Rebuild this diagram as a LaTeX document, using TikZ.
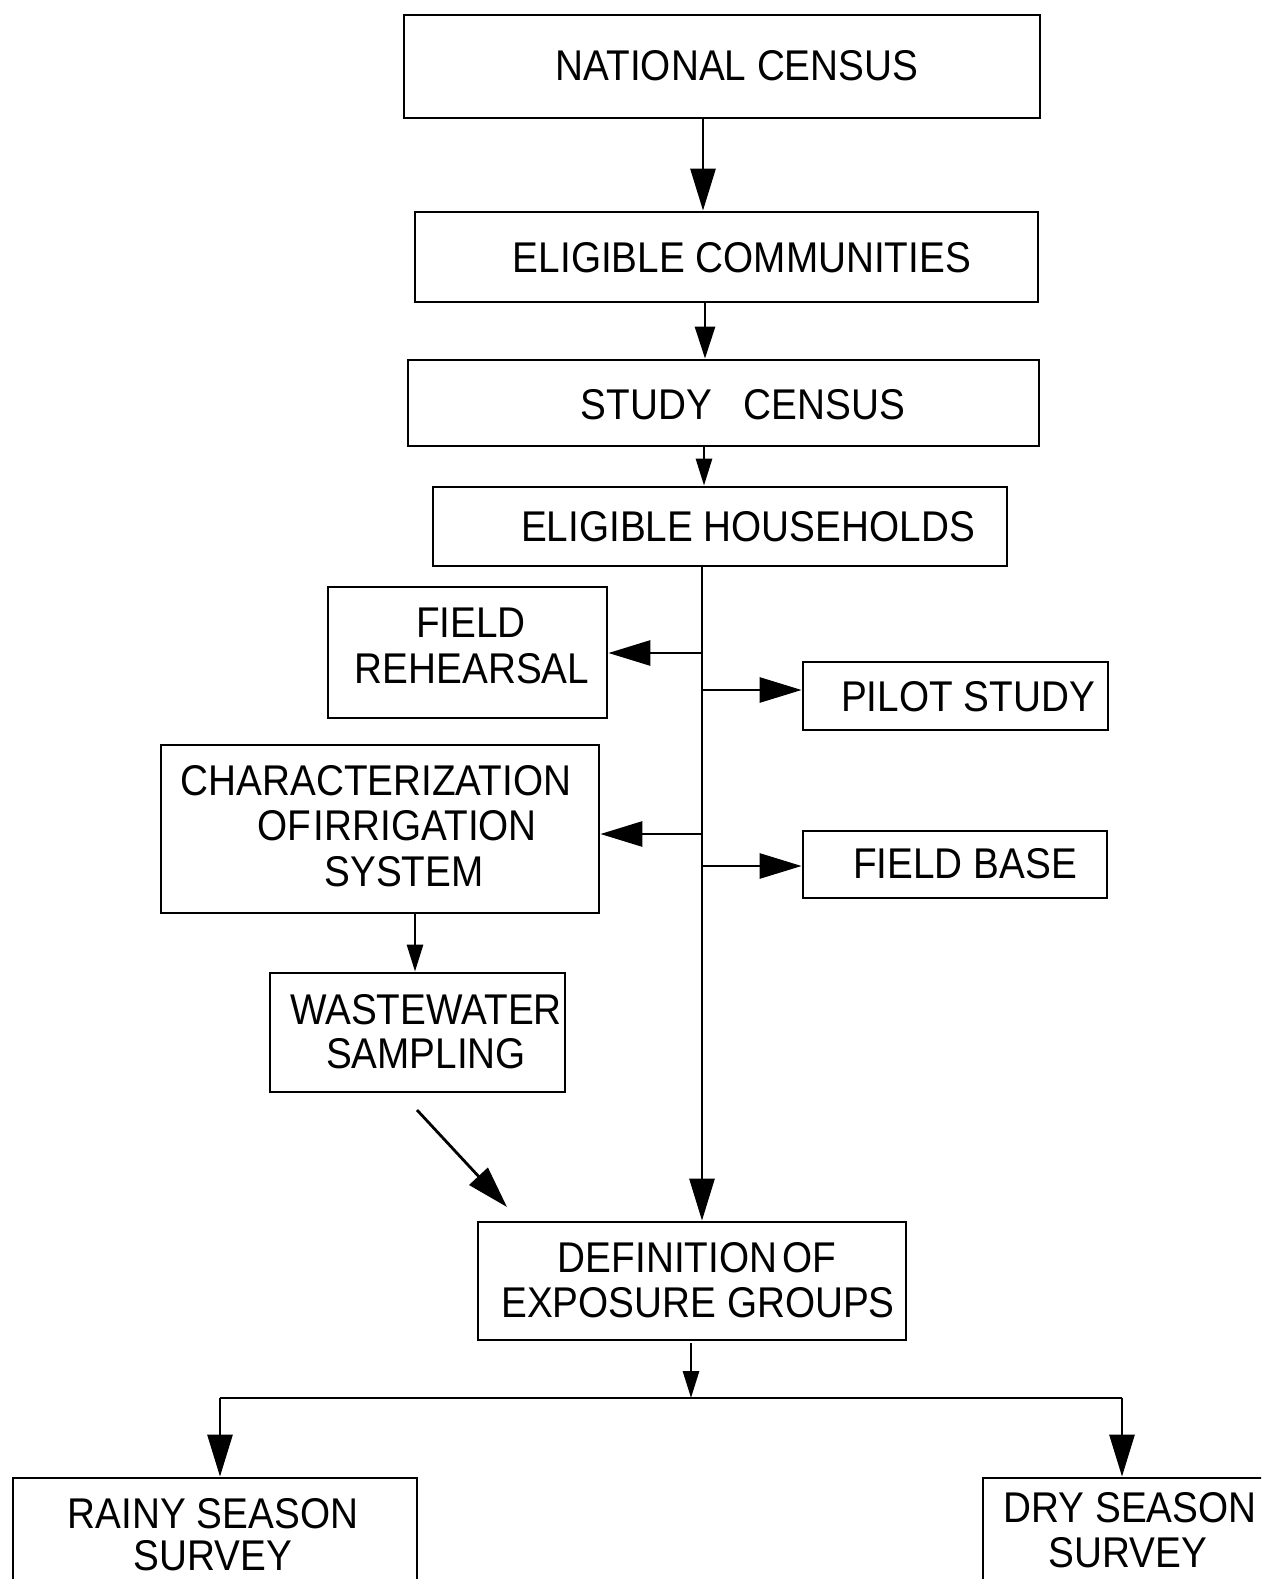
\documentclass[tikz,border=0pt]{standalone}
\usepackage{fontspec}
\setmainfont{Liberation Sans}[FakeStretch=0.9]
\usetikzlibrary{arrows.meta}
\begin{document}
\begin{tikzpicture}[x=1pt,y=-1pt,
  box/.style={draw,line width=2.8pt,inner sep=0pt,rectangle},
  lbl/.style={inner sep=0pt,font=\fontsize{43}{46}\selectfont},
  ln/.style={line width=2.8pt},
  bigarr/.style={ln,-{Triangle[length=42pt,width=25pt]}},
  midarr/.style={ln,-{Triangle[length=32pt,width=20pt]}},
  smallarr/.style={ln,-{Triangle[length=27pt,width=16pt]}}]
\useasboundingbox (0,0) rectangle (1261,1579);
\clip (0,0) rectangle (1261,1579);
% boxes
\node[box,minimum width=636pt,minimum height=103pt] (nc) at (722,66.5) {};
\node[box,minimum width=623pt,minimum height=90pt] (ec) at (726.5,257) {};
\node[box,minimum width=631pt,minimum height=86pt] (sc) at (723.5,403) {};
\node[box,minimum width=574pt,minimum height=79pt] (eh) at (720,526.5) {};
\node[box,minimum width=279pt,minimum height=131pt] (fr) at (467.5,652.5) {};
\node[box,minimum width=305pt,minimum height=68pt] (ps) at (955.5,696) {};
\node[box,minimum width=438pt,minimum height=168pt] (ch) at (380,829) {};
\node[box,minimum width=304pt,minimum height=67pt] (fb) at (955,864.5) {};
\node[box,minimum width=295pt,minimum height=119pt] (ww) at (417.5,1032.5) {};
\node[box,minimum width=428pt,minimum height=118pt] (df) at (692,1281) {};
\node[box,minimum width=404pt,minimum height=162pt] (rs) at (215,1559) {};
\node[box,minimum width=317pt,minimum height=162pt] (ds) at (1141.5,1559) {};
% texts
\node[lbl] (nc-t) at (737,66) {NATIONAL CENSUS};
\node[lbl] (ec-t) at (742,258) {ELIGIBLE COMMUNITIES};
\node[lbl] (sc-t) at (743,405) {STUDY\hspace{32pt}CENSUS};
\node[lbl] (eh-t) at (748,527) {ELIGIBLE HOUSEHOLDS};
\node[lbl] (fr-t1) at (471,623) {FIELD};
\node[lbl] (fr-t2) at (472,669) {REHEARSAL};
\node[lbl] (ps-t) at (968,697) {PILOT STUDY};
\node[lbl] (ch-t1) at (376,781) {CHARACTERIZATION};
\node[lbl] (ch-t2) at (397,826) {OF\hspace{3pt}IRRIGATION};
\node[lbl] (ch-t3) at (404,872) {SYSTEM};
\node[lbl] (fb-t) at (965,864) {FIELD BASE};
\node[lbl] (ww-t1) at (426,1010) {WASTEWATER};
\node[lbl] (ww-t2) at (426,1054) {SAMPLING};
\node[lbl] (df-t1) at (697,1258) {DEFINITION\hspace{5pt}OF};
\node[lbl] (df-t2) at (698,1303) {EXPOSURE GROUPS};
\node[lbl] (rs-t1) at (213,1514) {RAINY SEASON};
\node[lbl] (rs-t2) at (213,1556) {SURVEY};
\node[lbl] (ds-t1) at (1130,1508) {DRY SEASON};
\node[lbl] (ds-t2) at (1128,1553) {SURVEY};
% connector coordinates
\coordinate (x1) at (703,0);
\coordinate (x2) at (705,0);
\coordinate (x3) at (704,0);
\coordinate (tx) at (702,0);
\coordinate (b1) at (702,653);
\coordinate (b2) at (702,690);
\coordinate (b3) at (702,834);
\coordinate (b4) at (702,866);
\coordinate (cw) at (415,0);
\coordinate (d0) at (417,1110);
\coordinate (d1) at (507,1207);
\coordinate (dx0) at (691,1343);
\coordinate (h0) at (220,1398);
\coordinate (h1) at (1122,1398);
\coordinate (hm) at (691,1398);
% connectors
\draw[bigarr] (nc.south -| x1) -- (ec.north -| x1);
\draw[midarr] (ec.south -| x2) -- (sc.north -| x2);
\draw[smallarr] (sc.south -| x3) -- (eh.north -| x3);
\draw[bigarr] (eh.south -| tx) -- (df.north -| tx);
\draw[bigarr] (b1) -- (b1 -| fr.east);
\draw[bigarr] (b2) -- (b2 -| ps.west);
\draw[bigarr] (b3) -- (b3 -| ch.east);
\draw[bigarr] (b4) -- (b4 -| fb.west);
\draw[smallarr] (ch.south -| cw) -- (ww.north -| cw);
\draw[bigarr] (d0) -- (d1);
\draw[smallarr] (dx0) -- (hm);
\draw[ln] (h0) -- (h1);
\draw[bigarr] (h0) -- (h0 |- rs.north);
\draw[bigarr] (h1) -- (h1 |- ds.north);
\end{tikzpicture}
\end{document}
